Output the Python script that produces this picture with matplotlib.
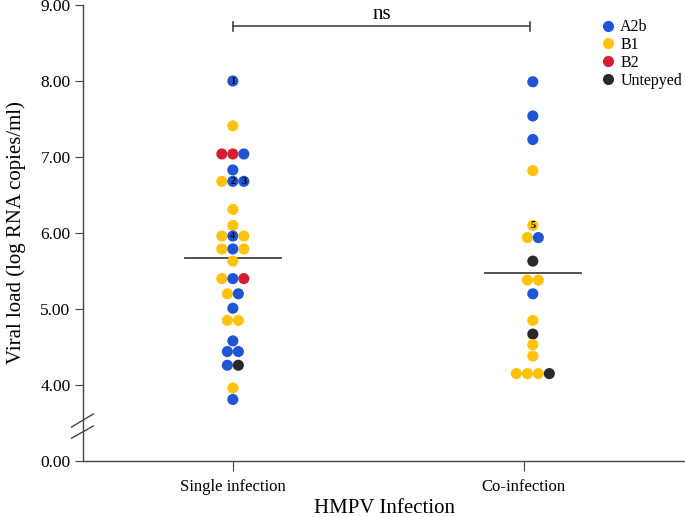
import matplotlib
matplotlib.use("Agg")
import matplotlib.pyplot as plt
from matplotlib.lines import Line2D
import matplotlib.transforms as mtransforms

plt.rcParams['font.family'] = ['Liberation Serif', 'DejaVu Serif']

# ---- data ----
categories = ["Single infection", "Co-infection"]
single_values = [8.00, 7.41, 7.04, 7.04, 7.04, 6.83, 6.68, 6.68, 6.68, 6.31, 6.10,
                 5.96, 5.96, 5.96, 5.79, 5.79, 5.79, 5.63, 5.40, 5.40, 5.40,
                 5.20, 5.20, 5.01, 4.85, 4.85, 4.58, 4.44, 4.44, 4.26, 4.26, 3.96, 3.81]
single_types = ["A2b", "B1", "B2", "B2", "A2b", "A2b", "B1", "A2b", "A2b", "B1", "B1",
                "B1", "A2b", "B1", "B1", "A2b", "B1", "B1", "B1", "A2b", "B2",
                "B1", "A2b", "A2b", "B1", "B1", "A2b", "A2b", "A2b", "A2b", "Untepyed", "B1", "A2b"]
single_labels = {0: "1", 7: "2", 8: "3", 12: "4"}

co_values = [7.99, 7.54, 7.23, 6.82, 6.10, 5.94, 5.94, 5.63, 5.38, 5.38, 5.20,
             4.85, 4.67, 4.53, 4.38, 4.15, 4.15, 4.15, 4.15]
co_types = ["A2b", "A2b", "A2b", "B1", "B1", "B1", "A2b", "Untepyed", "B1", "B1", "A2b",
            "B1", "Untepyed", "B1", "B1", "B1", "B1", "B1", "Untepyed"]
co_labels = {4: "5"}

medians = [5.67, 5.48]
genotypes = ["A2b", "B1", "B2", "Untepyed"]
colors = {"A2b": "#1f55d4", "B1": "#ffc20e", "B2": "#d31f2f", "Untepyed": "#2a2a2a"}
ytick_vals = [3, 4, 5, 6, 7, 8, 9]
ytick_labels = ["0.00", "4.00", "5.00", "6.00", "7.00", "8.00", "9.00"]
sig_text = "ns"

# ---- figure ----
fig = plt.figure(figsize=(6.85, 5.17), dpi=100)
ax = fig.add_axes([83/685, 1 - 461/517, 1 - 83/685, (461 - 5)/517])

centers = [0.0, 1.031]
dx = 0.0378

def swarm(values, types, labels, cx):
    # group equal values into horizontal rows
    i = 0
    n = len(values)
    while i < n:
        j = i
        while j < n and values[j] == values[i]:
            j += 1
        k = j - i
        for m in range(k):
            x = cx + (m - (k - 1) / 2) * dx
            ax.scatter(x, values[i + m], s=64, color=colors[types[i + m]],
                       edgecolors='none', zorder=3)
            if (i + m) in labels:
                ax.text(x, values[i + m], labels[i + m], ha='center', va='center',
                        fontsize=7.5, fontweight='bold', color='black', zorder=4)
        i = j

swarm(single_values, single_types, single_labels, centers[0])
swarm(co_values, co_types, co_labels, centers[1])

for cx, med in zip(centers, medians):
    ax.plot([cx - 0.165, cx + 0.165], [med, med], color='#444444', lw=1.3, zorder=2)

# significance bracket
yb = 8.72
ax.plot([centers[0], 1.023], [yb, yb], color='#444444', lw=1.2)
ax.plot([centers[0], centers[0]], [yb - 0.06, yb + 0.06], color='#444444', lw=1.2)
ax.plot([1.023, 1.023], [yb - 0.06, yb + 0.06], color='#444444', lw=1.2)
ax.text((centers[0] + 1.023) / 2, yb + 0.03, sig_text, ha='center', va='bottom', fontsize=15)

ax.set_xlim(-0.515, 1.554)
ax.set_ylim(3, 9)
ax.set_xticks([0, 1])
ax.set_xticklabels(categories, fontsize=12)
ax.set_yticks(ytick_vals)
ax.set_yticklabels(ytick_labels, fontsize=12.5)
ax.tick_params(axis='x', length=7, width=0.8, color='#444444', pad=6)
ax.tick_params(axis='y', length=6, width=0.8, color='#444444', pad=3)
for s in ['top', 'right']:
    ax.spines[s].set_visible(False)
for s in ['left', 'bottom']:
    ax.spines[s].set_color('#444444')
    ax.spines[s].set_linewidth(1.0)

ax.set_xlabel("HMPV Infection", fontsize=15, labelpad=2.5)
ax.set_ylabel("Viral load (log RNA copies/ml)", fontsize=15, labelpad=10)

# axis break marks
trans = mtransforms.blended_transform_factory(ax.transAxes, ax.transData)
for y0, y1 in [(3.447, 3.618), (3.30, 3.46)]:
    ax.plot([-0.019, 0.017], [y0, y1], color='#444444', lw=1.0, transform=trans,
            clip_on=False)

# legend
handles = [Line2D([0], [0], marker='o', linestyle='none', markersize=8,
                  markerfacecolor=colors[g], markeredgecolor='none') for g in genotypes]
leg = ax.legend(handles, genotypes, loc='upper left', bbox_to_anchor=(0.846, 0.983),
                frameon=False, fontsize=11.5, handletextpad=0.15, labelspacing=0.12,
                handlelength=1.2, borderaxespad=0)

fig.savefig("out.png", dpi=100)
